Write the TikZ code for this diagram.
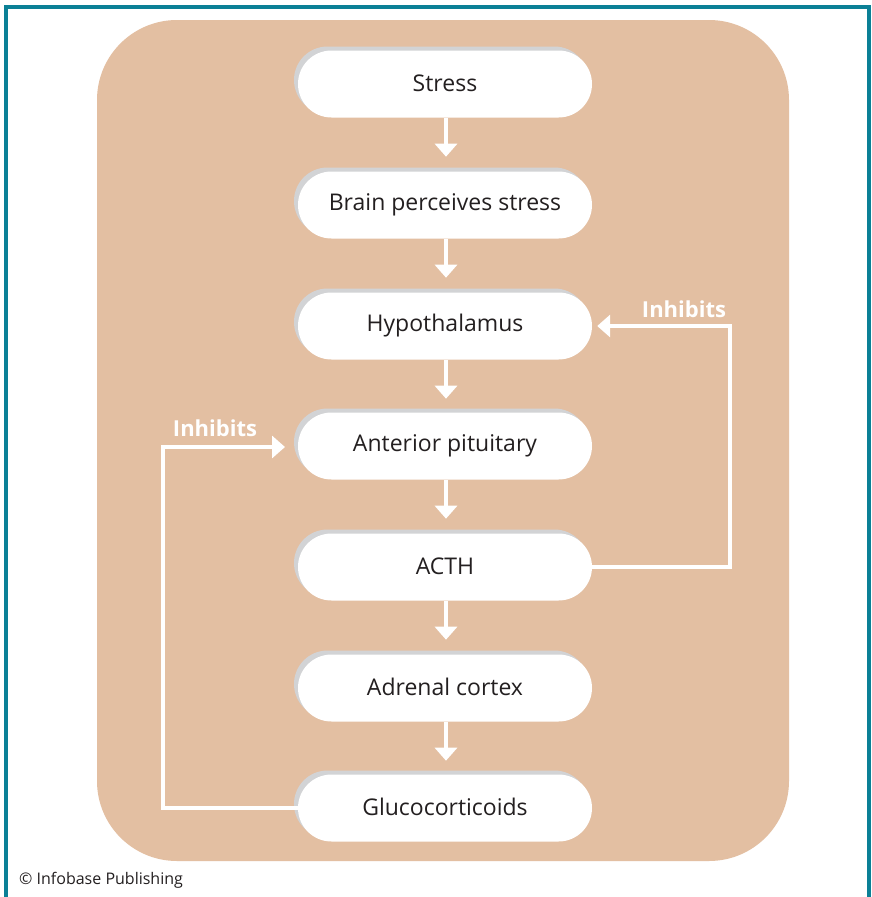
\documentclass[tikz,border=0pt]{standalone}
\usepackage{fontspec}
\setmainfont{Open Sans}
\usetikzlibrary{arrows.meta}
\definecolor{tan}{HTML}{E3BFA2}
\definecolor{teal}{HTML}{0B8096}
\definecolor{shade}{HTML}{D2D3D5}
\definecolor{ink}{HTML}{231F20}
\tikzset{
  pill/.style={draw=none, fill=white, rounded corners=33.5pt, minimum width=294pt, minimum height=67pt, inner sep=0pt, font=\fontsize{23}{27}\selectfont, text=ink},
  pillshadow/.style={draw=none, fill=shade, rounded corners=33.5pt, minimum width=294pt, minimum height=67pt, inner sep=0pt},
  flow/.style={draw=white, line width=4.5pt, -{Triangle[width=22pt,length=13pt]}},
  fb/.style={draw=white, line width=4.5pt, -{Triangle[width=22pt,length=13pt]}},
  lab/.style={text=white, font=\bfseries\fontsize{22}{26}\selectfont, inner sep=0pt}
}
\begin{document}
\begin{tikzpicture}[x=1pt,y=-1pt]
\useasboundingbox (0,0) rectangle (872,897);
\fill[white] (0,0) rectangle (872,897);
\draw[teal, line width=4pt] (6,900) -- (6,7) -- (869,7) -- (869,900);
\fill[tan, rounded corners=80pt] (97,20) rectangle (789,861);
\foreach \n/\y/\t in {s/84/Stress, b/205/Brain perceives stress, h/326/Hypothalamus, a/446/Anterior pituitary, c/567/ACTH, d/688/Adrenal cortex, g/808/Glucocorticoids}{
  \node[pillshadow] at (441,\y-4) {};
  \node[pill] (\n) at (445,\y) {\raisebox{1.5pt}{\t}};
}
\draw[flow] (s.south) ++(1,0) -- ++(0,39);
\draw[flow] (b.south) ++(1,0) -- ++(0,39);
\draw[flow] (h.south) ++(1,0) -- ++(0,39);
\draw[flow] (a.south) ++(1,0) -- ++(0,39);
\draw[flow] (c.south) ++(1,0) -- ++(0,39);
\draw[flow] (d.south) ++(1,0) -- ++(0,39);
\coordinate (r1) at (730,567);
\coordinate (r2) at (730,326);
\coordinate (rt) at ([xshift=5pt]h.east);
\draw[fb] (c.east) -- (r1) -- (r2) -- (rt);
\coordinate (l1) at (163,808);
\coordinate (l2) at (163,447);
\coordinate (lt) at (285,447);
\draw[fb] (g.west) -- (l1) -- (l2) -- (lt);
\node[lab] (li1) at (684,309) {Inhibits};
\node[lab] (li2) at (215,428) {Inhibits};
\node[anchor=west, text=ink, font=\fontsize{16}{19}\selectfont, inner sep=0pt] (copy) at (19,880) {© Infobase Publishing};
\end{tikzpicture}
\end{document}
